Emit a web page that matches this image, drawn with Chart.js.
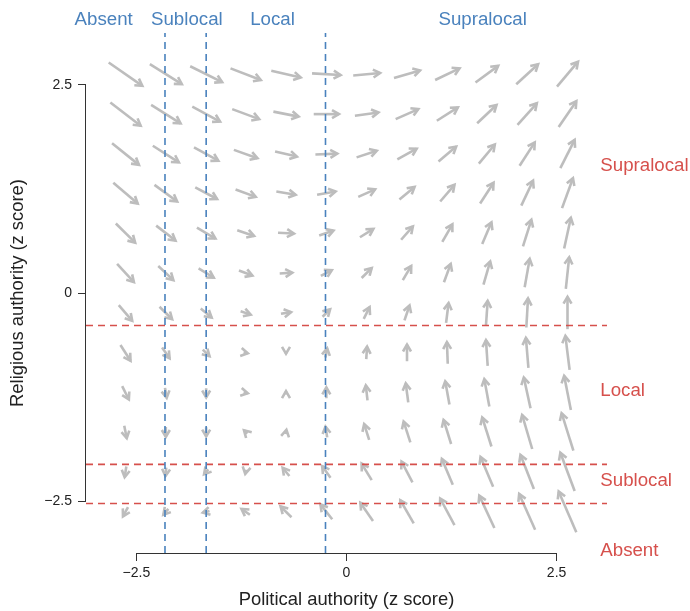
<!DOCTYPE html>
<html>
<head>
<meta charset="utf-8">
<script src="https://cdn.jsdelivr.net/npm/chart.js@4.4.0/dist/chart.umd.min.js"></script>
<style>
  body { margin: 0; background: #fff; }
  #box { width: 690px; height: 611px; }
</style>
</head>
<body>
<div id="box"><canvas id="grafico"></canvas></div>
<script>
// Grid of arrow centres (z scores)
const gridX = [-2.63, -2.15, -1.67, -1.2, -0.72, -0.24, 0.24, 0.72, 1.2, 1.67, 2.15, 2.63];
const gridY = [2.63, 2.15, 1.67, 1.2, 0.72, 0.24, -0.24, -0.72, -1.2, -1.67, -2.15, -2.63];

// Arrow components: one row per gridY value, one column per gridX value
const vecU = [
  [0.40, 0.38, 0.38, 0.36, 0.35, 0.34, 0.32, 0.31, 0.29, 0.27, 0.26, 0.25],
  [0.36, 0.35, 0.33, 0.32, 0.30, 0.30, 0.28, 0.27, 0.25, 0.23, 0.23, 0.21],
  [0.32, 0.31, 0.29, 0.28, 0.26, 0.26, 0.24, 0.23, 0.21, 0.19, 0.18, 0.17],
  [0.29, 0.27, 0.26, 0.24, 0.23, 0.22, 0.20, 0.18, 0.17, 0.16, 0.14, 0.13],
  [0.23, 0.23, 0.22, 0.20, 0.19, 0.17, 0.16, 0.14, 0.12, 0.11, 0.10, 0.08],
  [0.20, 0.18, 0.18, 0.16, 0.15, 0.13, 0.12, 0.10, 0.08, 0.08, 0.06, 0.04],
  [0.16, 0.15, 0.13, 0.12, 0.12, 0.09, 0.07, 0.06, 0.03, 0.02, 0.02, 0.00],
  [0.12, 0.09, 0.08, 0.05, 0.00, 0.02, 0.01, 0.00, -0.01, -0.02, -0.03, -0.05],
  [0.08, 0.02, 0.00, 0.05, 0.00, 0.00, -0.02, -0.03, -0.05, -0.06, -0.08, -0.08],
  [0.03, 0.00, 0.00, -0.04, 0.01, -0.02, -0.06, -0.08, -0.09, -0.11, -0.12, -0.14],
  [-0.02, -0.01, -0.05, -0.01, -0.08, -0.10, -0.12, -0.13, -0.13, -0.15, -0.16, -0.17],
  [-0.06, -0.06, -0.08, -0.10, -0.13, -0.14, -0.15, -0.16, -0.17, -0.18, -0.19, -0.21]
];
const vecV = [
  [-0.28, -0.24, -0.19, -0.14, -0.08, -0.02, 0.03, 0.09, 0.14, 0.20, 0.24, 0.30],
  [-0.28, -0.22, -0.18, -0.12, -0.06, 0.00, 0.04, 0.12, 0.16, 0.22, 0.26, 0.31],
  [-0.26, -0.20, -0.16, -0.10, -0.06, 0.01, 0.08, 0.13, 0.18, 0.23, 0.28, 0.34],
  [-0.25, -0.20, -0.14, -0.09, -0.04, 0.04, 0.09, 0.15, 0.20, 0.25, 0.30, 0.36],
  [-0.23, -0.18, -0.13, -0.07, -0.01, 0.06, 0.10, 0.16, 0.21, 0.26, 0.32, 0.37],
  [-0.22, -0.17, -0.11, -0.06, 0.01, 0.07, 0.12, 0.17, 0.22, 0.28, 0.34, 0.38],
  [-0.19, -0.15, -0.11, -0.04, 0.02, 0.09, 0.14, 0.18, 0.24, 0.29, 0.35, 0.39],
  [-0.19, -0.13, -0.08, -0.01, -0.02, 0.11, 0.15, 0.20, 0.26, 0.31, 0.36, 0.41],
  [-0.16, -0.12, -0.11, -0.01, 0.04, 0.13, 0.18, 0.23, 0.28, 0.33, 0.37, 0.41],
  [-0.15, -0.12, -0.11, 0.04, 0.05, 0.13, 0.19, 0.25, 0.29, 0.35, 0.41, 0.45],
  [-0.13, -0.10, -0.06, -0.05, 0.10, 0.14, 0.20, 0.25, 0.31, 0.36, 0.41, 0.46],
  [-0.11, -0.07, -0.02, 0.07, 0.13, 0.18, 0.22, 0.28, 0.32, 0.39, 0.43, 0.49]
];

// Region boundaries
const politicalCuts = [-2.16, -1.67, -0.25];
const religiousCuts = [-0.39, -2.06, -2.53];

// Region labels
const politicalLabels = ['Absent', 'Sublocal', 'Local', 'Supralocal'];
const politicalLabelPos = [-2.89, -1.9, -0.88, 1.62];
const religiousLabels = ['Supralocal', 'Local', 'Sublocal', 'Absent'];
const religiousLabelPos = [1.53, -1.18, -2.26, -3.1];

// Axis ticks
const tickValues = [-2.5, 0, 2.5];

const xMin = -3.1, xMax = 3.1, yMin = -3.125, yMax = 3.125;
const FONT = '"Liberation Sans", Arial, sans-serif';
const GREY = '#bdbdbd';
const BLUE = '#4a82bd';
const RED = '#d6504c';
const INK = '#222222';

function fmtTick(value) {
  return value < 0 ? '\u2212' + Math.abs(value) : String(value);
}

// Build the datasets: dashed boundaries first so they end up on top
const datasets = [];
politicalCuts.forEach(x => {
  datasets.push({
    data: [{x: x, y: yMin}, {x: x, y: yMax}],
    borderColor: BLUE, borderWidth: 1.6, borderDash: [7, 5],
    showLine: true, pointRadius: 0
  });
});
religiousCuts.forEach(y => {
  datasets.push({
    data: [{x: xMin, y: y}, {x: xMax, y: y}],
    borderColor: RED, borderWidth: 1.6, borderDash: [7, 5],
    showLine: true, pointRadius: 0
  });
});
gridY.forEach((y, r) => {
  gridX.forEach((x, c) => {
    const u = vecU[r][c];
    const v = vecV[r][c];
    datasets.push({
      arrow: true,
      data: [{x: x - u / 2, y: y - v / 2}, {x: x + u / 2, y: y + v / 2}],
      borderColor: GREY, borderWidth: 2.6, borderCapStyle: 'butt',
      showLine: true, pointRadius: 0
    });
  });
});

// Arrow heads at the end point of each arrow line
const arrowHeads = {
  id: 'arrowHeads',
  beforeDatasetsDraw(chart) {
    const ctx = chart.ctx;
    const area = chart.chartArea;
    ctx.save();
    ctx.beginPath();
    ctx.rect(area.left, area.top, area.right - area.left, area.bottom - area.top);
    ctx.clip();
    ctx.strokeStyle = GREY;
    ctx.lineWidth = 2.6;
    ctx.lineJoin = 'miter';
    chart.data.datasets.forEach((ds, i) => {
      if (!ds.arrow) return;
      const pts = chart.getDatasetMeta(i).data;
      const a = pts[0], b = pts[1];
      const ang = Math.atan2(b.y - a.y, b.x - a.x);
      const len = 8, spread = Math.PI / 6;
      ctx.beginPath();
      ctx.moveTo(b.x - len * Math.cos(ang - spread), b.y - len * Math.sin(ang - spread));
      ctx.lineTo(b.x, b.y);
      ctx.lineTo(b.x - len * Math.cos(ang + spread), b.y - len * Math.sin(ang + spread));
      ctx.stroke();
    });
    ctx.restore();
  }
};

// Axis lines only between the outer ticks, plus region labels
const extras = {
  id: 'extras',
  afterDraw(chart) {
    const ctx = chart.ctx;
    const xs = chart.scales.x, ys = chart.scales.y;
    const area = chart.chartArea;
    ctx.save();
    ctx.strokeStyle = '#333';
    ctx.lineWidth = 1;
    ctx.beginPath();
    ctx.moveTo(xs.getPixelForValue(tickValues[0]), area.bottom + 0.5);
    ctx.lineTo(xs.getPixelForValue(tickValues[tickValues.length - 1]), area.bottom + 0.5);
    ctx.moveTo(area.left - 0.5, ys.getPixelForValue(tickValues[0]));
    ctx.lineTo(area.left - 0.5, ys.getPixelForValue(tickValues[tickValues.length - 1]));
    ctx.stroke();

    ctx.font = '18.7px ' + FONT;
    ctx.textBaseline = 'middle';
    ctx.fillStyle = BLUE;
    ctx.textAlign = 'center';
    politicalLabels.forEach((t, i) => {
      ctx.fillText(t, xs.getPixelForValue(politicalLabelPos[i]), 20);
    });
    ctx.fillStyle = RED;
    ctx.textAlign = 'left';
    religiousLabels.forEach((t, i) => {
      ctx.fillText(t, xs.getPixelForValue(3.02), ys.getPixelForValue(religiousLabelPos[i]));
    });
    ctx.restore();
  }
};

const ctx = document.getElementById('grafico').getContext('2d');
const grafico = new Chart(ctx, {
  type: 'scatter',
  data: { datasets: datasets },
  plugins: [arrowHeads, extras],
  options: {
    responsive: true,
    maintainAspectRatio: false,
    animation: false,
    events: [],
    layout: { padding: { left: 0, right: 83, top: 33, bottom: 0 } },
    plugins: { legend: { display: false }, tooltip: { enabled: false } },
    scales: {
      x: {
        type: 'linear', min: xMin, max: xMax,
        afterBuildTicks: s => { s.ticks = tickValues.map(v => ({ value: v })); },
        afterFit: s => { s.height = 58; },
        border: { display: false },
        grid: { drawOnChartArea: false, drawTicks: true, tickLength: 8, color: '#333' },
        ticks: { font: { family: FONT, size: 14 }, color: INK, padding: 4, maxRotation: 0, callback: fmtTick },
        title: { display: true, text: 'Political authority (z score)', color: INK,
                 font: { family: FONT, size: 18.4 }, padding: { top: 0, bottom: 0 } }
      },
      y: {
        type: 'linear', min: yMin, max: yMax,
        afterBuildTicks: s => { s.ticks = tickValues.map(v => ({ value: v })); },
        afterFit: s => { s.width = 86; },
        border: { display: false },
        grid: { drawOnChartArea: false, drawTicks: true, tickLength: 8, color: '#333' },
        ticks: { font: { family: FONT, size: 14 }, color: INK, padding: 6, callback: fmtTick },
        title: { display: true, text: 'Religious authority (z score)', color: INK,
                 font: { family: FONT, size: 18.4 }, padding: { top: 7, bottom: 0 } }
      }
    }
  }
});
</script>
</body>
</html>
